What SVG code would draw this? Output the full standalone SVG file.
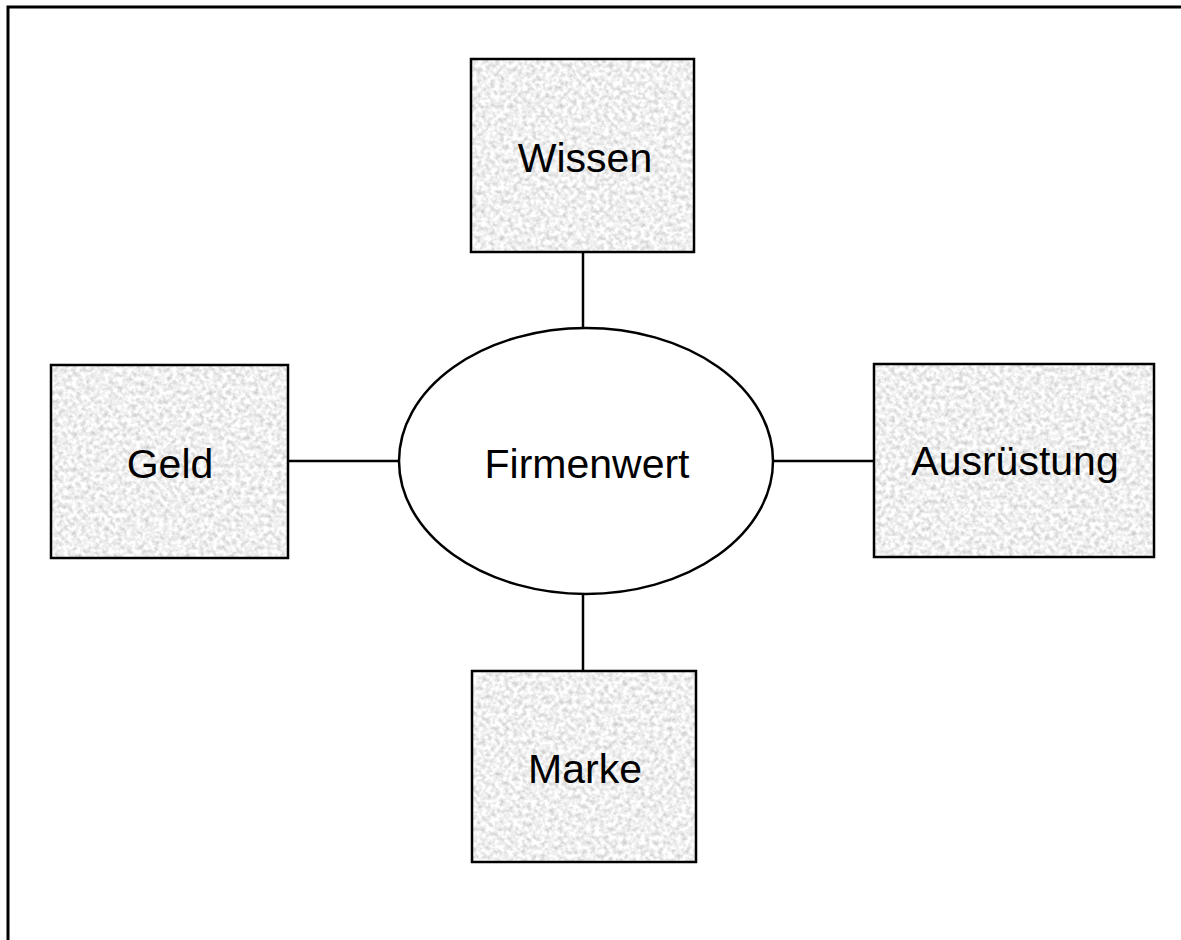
<svg xmlns="http://www.w3.org/2000/svg" width="1181" height="940" viewBox="0 0 1181 940">
  <defs>
    <filter id="grain" x="0" y="0" width="100%" height="100%" color-interpolation-filters="sRGB">
      <feTurbulence type="fractalNoise" baseFrequency="0.22" numOctaves="2" seed="7" result="n"/>
      <feColorMatrix in="n" type="matrix" values="0.38 0 0 0 0.75  0.38 0 0 0 0.75  0.38 0 0 0 0.75  0 0 0 0 1" result="g"/>
      <feComposite in="g" in2="SourceGraphic" operator="in"/>
    </filter>
  </defs>
  <style>
    .frame { fill: none; stroke: #000; stroke-width: 3; }
    .tex { fill: #000; filter: url(#grain); }
    .box { fill: none; stroke: #000; stroke-width: 2.5; }
    .ell { fill: #fff; stroke: #000; stroke-width: 2.5; }
    .conn { stroke: #000; stroke-width: 2.5; fill: none; }
    .lbl { font-family: "Liberation Sans", Arial, sans-serif; font-size: 41px; fill: #000; text-anchor: middle; }
  </style>
  <rect width="1181" height="940" fill="#fff"/>
  <rect class="frame" x="8" y="7" width="1200" height="960"/>

  <g id="connectors">
    <line class="conn" x1="583" y1="252" x2="583" y2="328"/>
    <line class="conn" x1="583" y1="594" x2="583" y2="671"/>
    <line class="conn" x1="288" y1="461" x2="400" y2="461"/>
    <line class="conn" x1="773" y1="461" x2="874" y2="461"/>
  </g>

  <g id="node-wissen">
    <rect class="tex" x="471" y="59" width="223" height="193"/>
    <rect class="box" x="471" y="59" width="223" height="193"/>
    <text class="lbl" x="585" y="172">Wissen</text>
  </g>

  <g id="node-geld">
    <rect class="tex" x="51" y="365" width="237" height="193"/>
    <rect class="box" x="51" y="365" width="237" height="193"/>
    <text class="lbl" x="170" y="478">Geld</text>
  </g>

  <g id="node-ausruestung">
    <rect class="tex" x="874" y="364" width="280" height="193"/>
    <rect class="box" x="874" y="364" width="280" height="193"/>
    <text class="lbl" x="1015" y="475">Ausrüstung</text>
  </g>

  <g id="node-marke">
    <rect class="tex" x="472" y="671" width="224" height="191"/>
    <rect class="box" x="472" y="671" width="224" height="191"/>
    <text class="lbl" x="585" y="783">Marke</text>
  </g>

  <g id="node-firmenwert">
    <ellipse class="ell" cx="586" cy="461" rx="187" ry="133"/>
    <text class="lbl" x="587" y="478">Firmenwert</text>
  </g>
</svg>
